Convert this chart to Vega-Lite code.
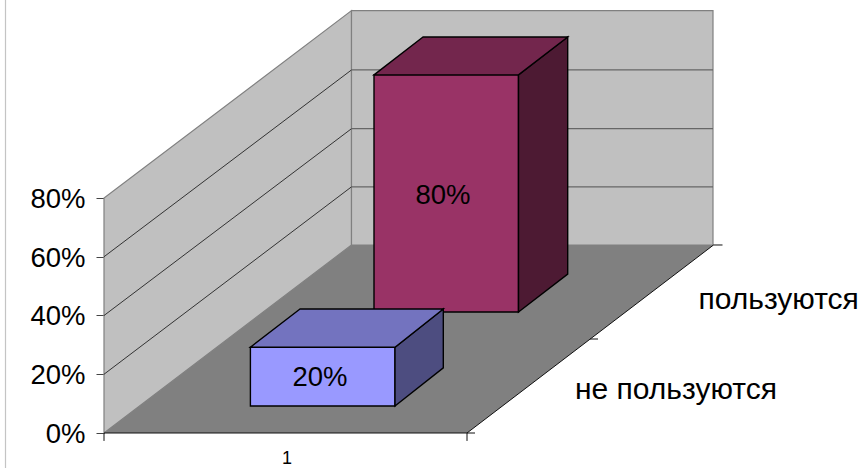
{
"$schema":"https://vega.github.io/schema/vega-lite/v6.json",
"width":861,"height":468,"padding":0,"autosize":{"type":"none"},
"background":"#ffffff",
"config":{"view":{"stroke":null},"font":"Liberation Sans"},
"datasets":{
"verticalFaces":[
{"face":"left wall","x":104,"v":0,"v2":0.8},{"face":"left wall","x":351.5,"v":0.64,"v2":1.438},
{"face":"back wall","x":351.5,"v":0.64,"v2":1.438},{"face":"back wall","x":713,"v":0.64,"v2":1.438}],
"floor":[{"face":"floor","v":0,"x":104,"x2":467},{"face":"floor","v":0.64,"x":351.5,"x2":713.5}],
"purpleSides":[
{"face":"purple front","x":374,"v":0.412,"v2":1.219},{"face":"purple front","x":518.5,"v":0.412,"v2":1.219},
{"face":"purple side","x":518.5,"v":0.412,"v2":1.219},{"face":"purple side","x":567.7,"v":0.541,"v2":1.348}],
"purpleTop":[{"face":"purple top","v":1.219,"x":374,"x2":518.5},{"face":"purple top","v":1.348,"x":423,"x2":567.7}],
"blueSides":[
{"face":"blue front","x":250.4,"v":0.092,"v2":0.292},{"face":"blue front","x":395,"v":0.092,"v2":0.292},
{"face":"blue side","x":395,"v":0.092,"v2":0.292},{"face":"blue side","x":443.3,"v":0.222,"v2":0.422}],
"blueTop":[{"face":"blue top","v":0.292,"x":250.4,"x2":395},{"face":"blue top","v":0.422,"x":300,"x2":443.3}],
"leftGrid":[
{"level":"20%","x":104,"v":0.2},{"level":"20%","x":351.5,"v":0.838},
{"level":"40%","x":104,"v":0.4},{"level":"40%","x":351.5,"v":1.036},
{"level":"60%","x":104,"v":0.6},{"level":"60%","x":351.5,"v":1.236}],
"backGrid":[
{"level":"20%","x":351.5,"v":0.838},{"level":"20%","x":713,"v":0.838},
{"level":"40%","x":351.5,"v":1.036},{"level":"40%","x":713,"v":1.036},
{"level":"60%","x":351.5,"v":1.236},{"level":"60%","x":713,"v":1.236}],
"edges":[
{"edge":"front","x":104,"v":0},{"edge":"front","x":467,"v":0},
{"edge":"side","x":467,"v":0},{"edge":"side","x":713.5,"v":0.64},
{"edge":"tick a","x":104,"v":0},{"edge":"tick a","x":104,"v":-0.027},
{"edge":"tick b","x":467,"v":0},{"edge":"tick b","x":467,"v":-0.027},
{"edge":"tick c","x":467,"v":0},{"edge":"tick c","x":475,"v":0},
{"edge":"tick d","x":590,"v":0.32},{"edge":"tick d","x":598,"v":0.32},
{"edge":"tick e","x":713.5,"v":0.64},{"edge":"tick e","x":722.5,"v":0.64}],
"frame":[{"x":5.5,"v":-0.11915},{"x":5.5,"v":1.47404}],
"barLabels":[{"label":"20%","x":320,"v":0.187},{"label":"80%","x":443,"v":0.807}],
"categoryLabels":[{"label":"пользуются","x":698.5,"v":0.452},{"label":"не пользуются","x":575,"v":0.146}],
"xLabels":[{"label":"1","x":287,"v":-0.09}]
},
"encoding":{
"x":{"field":"x","type":"quantitative","scale":{"domain":[0,861],"nice":false,"zero":false},"axis":null},
"y":{"field":"v","type":"quantitative","scale":{"domain":[-0.11915,1.47404],"nice":false,"zero":false},
 "axis":{"orient":"left","offset":-104,"values":[0,0.2,0.4,0.6,0.8],"format":".0%","domain":false,"grid":false,"ticks":true,"tickSize":8,"tickColor":"#444444","labelFontSize":27.5,"labelColor":"#000000","labelPadding":11,"labelOffset":1.5,"labelFont":"Liberation Sans","labelOverlap":false,"labelBound":false,"labelFlush":false,"title":null}}
},
"layer":[
{"data":{"name":"frame"},"mark":{"type":"line","stroke":"#c4c4c4","strokeWidth":1.2}},
{"data":{"name":"verticalFaces"},"mark":{"type":"area","fill":"#c0c0c0","stroke":"#808080","strokeWidth":1.2},
 "encoding":{"detail":{"field":"face"},"y2":{"field":"v2"}}},
{"data":{"name":"leftGrid"},"mark":{"type":"line","stroke":"#222222","strokeWidth":0.9},"encoding":{"detail":{"field":"level"}}},
{"data":{"name":"backGrid"},"mark":{"type":"line","stroke":"#666666","strokeWidth":1.2},"encoding":{"detail":{"field":"level"}}},
{"data":{"name":"floor"},"mark":{"type":"area","orient":"horizontal","fill":"#808080"},"encoding":{"x2":{"field":"x2"}}},
{"data":{"name":"edges"},"mark":{"type":"line","stroke":"#111111","strokeWidth":1},"encoding":{"detail":{"field":"edge"}}},
{"data":{"name":"purpleSides"},"mark":{"type":"area","stroke":"#000000","strokeWidth":1.4},
 "encoding":{"y2":{"field":"v2"},"color":{"field":"face","type":"nominal","legend":null,"scale":{"domain":["purple front","purple side","blue front","blue side"],"range":["#993366","#4d1a33","#9999ff","#4d4d80"]}}}},
{"data":{"name":"purpleTop"},"mark":{"type":"area","orient":"horizontal","fill":"#73264d","stroke":"#000000","strokeWidth":1.4},"encoding":{"x2":{"field":"x2"}}},
{"data":{"name":"blueSides"},"mark":{"type":"area","stroke":"#000000","strokeWidth":1.4},
 "encoding":{"y2":{"field":"v2"},"color":{"field":"face","type":"nominal","legend":null,"scale":{"domain":["purple front","purple side","blue front","blue side"],"range":["#993366","#4d1a33","#9999ff","#4d4d80"]}}}},
{"data":{"name":"blueTop"},"mark":{"type":"area","orient":"horizontal","fill":"#7373bf","stroke":"#000000","strokeWidth":1.4},"encoding":{"x2":{"field":"x2"}}},
{"data":{"name":"barLabels"},"mark":{"type":"text","fontSize":27.5,"align":"center","baseline":"middle","color":"#000000"},"encoding":{"text":{"field":"label"}}},
{"data":{"name":"categoryLabels"},"mark":{"type":"text","fontSize":30,"align":"left","baseline":"middle","color":"#000000"},"encoding":{"text":{"field":"label"}}},
{"data":{"name":"xLabels"},"mark":{"type":"text","fontSize":18,"align":"center","baseline":"middle","color":"#000000","clip":false},"encoding":{"text":{"field":"label"}}}
]
}
